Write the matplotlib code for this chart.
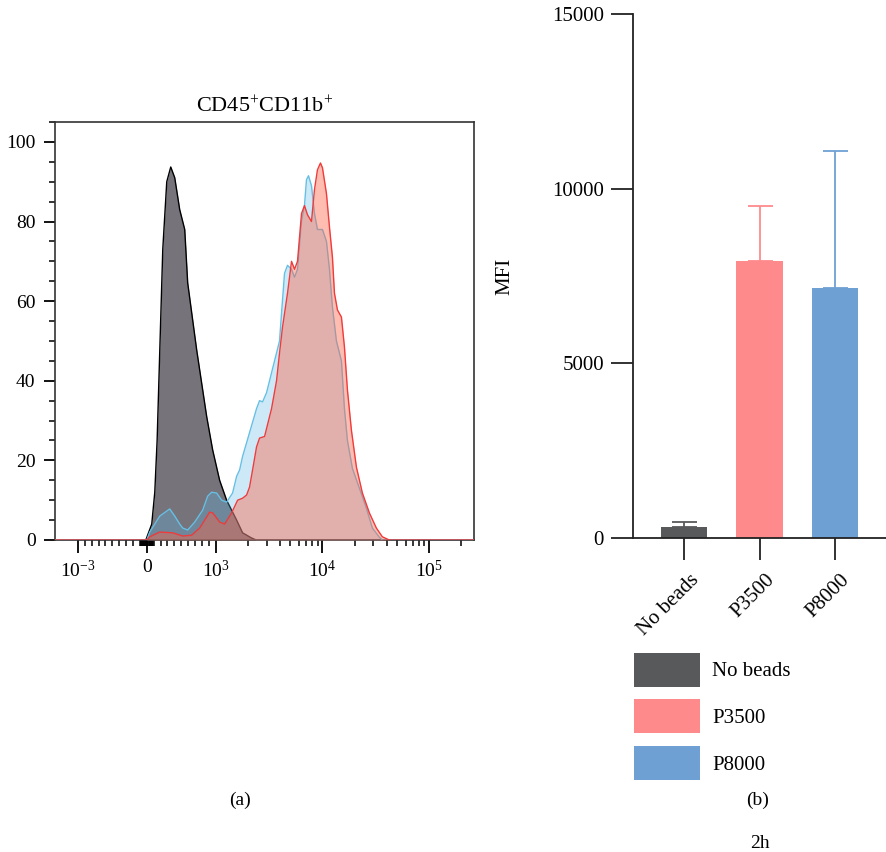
import numpy as np
import matplotlib
matplotlib.use("Agg")
import matplotlib.pyplot as plt
import matplotlib.transforms as mtransforms
from matplotlib.patches import Patch

plt.rcParams["font.family"] = ["Liberation Serif", "DejaVu Serif"]
plt.rcParams["mathtext.fontset"] = "custom"
plt.rcParams["mathtext.rm"] = "Liberation Serif"
plt.rcParams["mathtext.it"] = "Liberation Serif:italic"

# --- histogram data (fluorescence intensity vs % of max) ---
x_lo, x_hi = -1640, 262144

nobeads_x = [-14, 72, 116, 150, 232, 290, 348, 406, 478, 551, 594, 725, 870, 957,
             1090, 1267, 1572, 1788, 2170, 2400]
nobeads_y = [0, 4, 12, 25, 73, 90, 93.7, 91, 83, 78, 64.6, 47.7, 31, 22.6,
             15, 10, 5, 1.8, 0.5, 0]

p8000_x = [0, 43, 188, 333, 406, 478, 522, 594, 696, 812, 884, 942, 1022, 1138, 1267,
           1441, 1572, 1677, 1788, 2078, 2416, 2577, 2750, 2997, 3337, 3560, 3965,
           4139, 4415, 4709, 5133, 5475, 5840, 6365, 6786, 7087, 7399, 7892, 8418,
           8980, 10000, 10900, 11630, 12400, 13510, 15050, 16060, 17130, 19070,
           22170, 25780, 29330, 34100, 36370]
p8000_y = [0, 2, 6, 7.8, 6, 4, 3, 2.5, 4.5, 7.5, 11, 12, 11.8, 10, 9.5,
           11.8, 16, 17.6, 21, 27, 33, 35, 34.7, 37, 42, 45, 50,
           57, 67, 69, 68, 66, 68, 80, 84, 90.5, 91.5, 89, 82,
           78, 78, 75, 68, 58.5, 50, 45, 33, 25, 18,
           13, 8, 3, 0.7, 0]

p3500_x = [0, 43, 188, 377, 522, 652, 768, 913, 957, 1090, 1214, 1411, 1606, 1788,
           1949, 2078, 2217, 2416, 2577, 2871, 3337, 3717, 3965, 4229, 4709, 5133,
           5475, 5840, 6365, 6786, 7241, 7892, 8418, 8980, 9579, 10000, 10900,
           11630, 12400, 12950, 13810, 15050, 16060, 17130, 18660, 20790, 23650,
           27500, 31960, 36370, 42280]
p3500_y = [0, 0.8, 2, 1.8, 1, 1.2, 3, 7, 6.8, 4.5, 4, 6.8, 10, 10.5,
           11.3, 13.3, 17.6, 23.4, 25.6, 26, 33, 40, 47, 53.5, 62, 70,
           68, 70, 82, 84, 81.7, 80, 88, 93, 94.7, 93.5, 87,
           78.6, 71, 62, 57.8, 56, 48.5, 37.7, 27.6, 18.3, 11.8,
           6.8, 3, 0.8, 0]

# --- bar chart data ---
groups = ["No beads", "P3500", "P8000"]
mfi_mean = [320, 7920, 7150]
mfi_err = [150, 1580, 3930]
bar_colors = ["#58595b", "#ff8a8c", "#6fa0d4"]

fig = plt.figure(figsize=(8.86, 8.52), dpi=100)

# ---------------- (a) histogram ----------------
ax = fig.add_axes([55 / 886, 1 - 540 / 852, 419 / 886, 418 / 852])
ax.set_xscale("symlog", linthresh=1000, linscale=0.58)


def pad(xs, ys):
    return [x_lo] + list(xs) + [x_hi], [0] + list(ys) + [0]


xs, ys = pad(nobeads_x, nobeads_y)
ax.fill_between(xs, ys, 0, color="#77737a", lw=0, zorder=1)
ax.plot(xs, ys, color="black", lw=1, zorder=2)

xs, ys = pad(p8000_x, p8000_y)
ax.fill_between(xs, ys, 0, color="#5bb8e6", alpha=0.3, lw=0, zorder=3)
ax.plot(xs, ys, color="#66bfe4", lw=1, zorder=4)

xs, ys = pad(p3500_x, p3500_y)
ax.fill_between(xs, ys, 0, color="#ff6347", alpha=0.42, lw=0, zorder=5)
ax.plot(xs, ys, color="#ee3b3b", lw=1, zorder=6)

ax.set_xlim(x_lo, x_hi)
ax.set_ylim(0, 105)
ax.set_yticks([0, 20, 40, 60, 80, 100])
ax.set_yticks(np.arange(0, 106, 5), minor=True)

ax.set_xticks([-1000, 0, 1000, 10000, 100000])
ax.set_xticklabels([r"$10^{-3}$", "0", r"$10^3$", r"$10^4$", r"$10^5$"])
minor_x = list(np.arange(-900, 0, 100)) + list(np.arange(-90, 0, 10)) + \
    list(np.arange(10, 100, 10)) + list(np.arange(100, 1000, 100)) + \
    list(np.arange(2000, 10000, 1000)) + list(np.arange(20000, 100000, 10000)) + [200000]
ax.set_xticks(minor_x, minor=True)

ax.tick_params(axis="both", which="major", labelsize=14, length=8, width=1.3, color="black")
ax.tick_params(axis="both", which="minor", length=4, width=1.1)
ax.tick_params(axis="y", which="major", pad=6)
ax.tick_params(axis="x", which="major", length=9, pad=5)
for s in ax.spines.values():
    s.set_linewidth(1.2)
    s.set_color("#333333")
ax.set_title(r"CD45$^{+}$CD11b$^{+}$", fontsize=16, pad=7)
fig.text(240 / 886, 1 - 800 / 852, "(a)", fontsize=14, ha="center", va="center")

# ---------------- (b) bar chart ----------------
bx = fig.add_axes([633 / 886, 1 - 538 / 852, 253 / 886, 524 / 852])
pos = np.arange(len(groups))
bx.bar(pos, mfi_mean, width=0.62, color=bar_colors, zorder=2)
for i in range(len(groups)):
    bx.errorbar(pos[i], mfi_mean[i], yerr=[[0], [mfi_err[i]]], fmt="none",
                ecolor=bar_colors[i], elinewidth=1.3, capsize=9, capthick=1.3, zorder=1)
bx.set_xlim(-0.675, 2.675)
bx.set_ylim(0, 15000)
bx.set_yticks([0, 5000, 10000, 15000])
bx.set_xticks(pos)
bx.tick_params(axis="both", labelsize=15, length=16, width=1.3, color="#222222")
bx.tick_params(axis="y", pad=5)
bx.tick_params(axis="x", pad=12)
bx.set_xticklabels(groups, rotation=45, ha="right", va="center", rotation_mode="anchor")
# nudge the slanted category labels to the right, as in the original
shift = mtransforms.ScaledTranslation(12 / 100, 0, fig.dpi_scale_trans)
for lab in bx.get_xticklabels():
    lab.set_transform(lab.get_transform() + shift)
for side in ["top", "right"]:
    bx.spines[side].set_visible(False)
for side in ["left", "bottom"]:
    bx.spines[side].set_linewidth(1.3)
    bx.spines[side].set_color("#222222")
bx.set_ylabel("MFI", fontsize=15)
bx.yaxis.set_label_coords((514 - 633) / 253, 0.5)

handles = [Patch(facecolor=c, edgecolor="none") for c in bar_colors]
fig.legend(handles, groups, loc="upper left", bbox_to_anchor=(634 / 886, 1 - 652.5 / 852),
           frameon=False, fontsize=15, handlelength=3.17, handleheight=2.135,
           handletextpad=0.57, labelspacing=0.61, borderpad=0, borderaxespad=0)
fig.text(758 / 886, 1 - 800 / 852, "(b)", fontsize=14, ha="center", va="center")
fig.text(760 / 886, 1 - 843 / 852, "2h", fontsize=14, ha="center", va="center")

fig.savefig("out.png", dpi=100)
